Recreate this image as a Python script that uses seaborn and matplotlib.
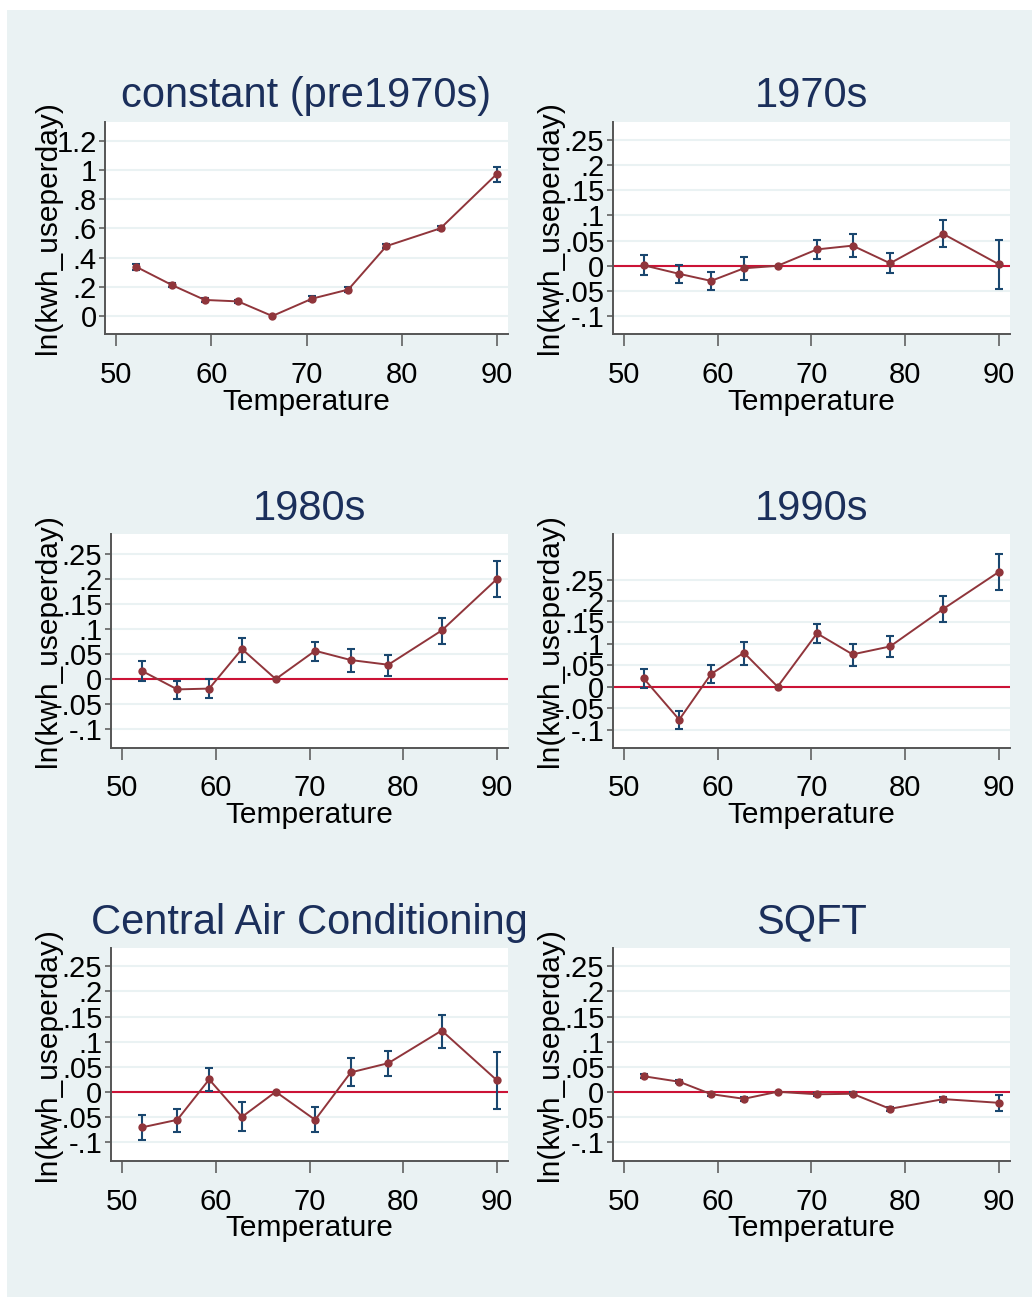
import matplotlib
matplotlib.use("Agg")
import matplotlib.pyplot as plt
import numpy as np
import pandas as pd
import seaborn as sns
from matplotlib.patches import Rectangle
from matplotlib.transforms import Bbox, TransformedBbox, blended_transform_factory

# ---- data: temperature-bin coefficients with 95% confidence bounds ----
temperature = [52.1, 55.9, 59.3, 62.8, 66.4, 70.6, 74.4, 78.4, 84.1, 90.0]

const_coef = [0.336, 0.210, 0.110, 0.100, 0.0, 0.119, 0.181, 0.478, 0.600, 0.970]
const_lo = [0.318, 0.196, 0.098, 0.087, 0.0, 0.104, 0.166, 0.466, 0.585, 0.915]
const_hi = [0.354, 0.224, 0.122, 0.113, 0.0, 0.134, 0.196, 0.490, 0.615, 1.022]

s70_coef = [0.001, -0.016, -0.030, -0.005, 0.0, 0.0325, 0.040, 0.005, 0.063, 0.003]
s70_lo = [-0.019, -0.034, -0.048, -0.029, 0.0, 0.013, 0.017, -0.015, 0.037, -0.046]
s70_hi = [0.021, 0.001, -0.013, 0.017, 0.0, 0.052, 0.0625, 0.025, 0.090, 0.052]

s80_coef = [0.0166, -0.0206, -0.019, 0.060, 0.0, 0.0565, 0.038, 0.0286, 0.097, 0.200]
s80_lo = [-0.003, -0.040, -0.0386, 0.035, 0.0, 0.036, 0.015, 0.006, 0.071, 0.1636]
s80_hi = [0.0366, -0.003, 0.0, 0.082, 0.0, 0.075, 0.060, 0.0485, 0.122, 0.236]

s90_coef = [0.0195, -0.077, 0.0296, 0.0794, 0.0, 0.1246, 0.0755, 0.094, 0.182, 0.268]
s90_lo = [-0.003, -0.098, 0.0086, 0.0514, 0.0, 0.101, 0.049, 0.069, 0.152, 0.225]
s90_hi = [0.0405, -0.056, 0.0506, 0.104, 0.0, 0.1456, 0.1005, 0.1176, 0.211, 0.311]

cac_coef = [-0.0711, -0.0559, 0.0246, -0.050, 0.0, -0.056, 0.0386, 0.057, 0.122, 0.0226]
cac_lo = [-0.0964, -0.080, 0.0007, -0.078, 0.0, -0.081, 0.0106, 0.0306, 0.088, -0.035]
cac_hi = [-0.047, -0.0346, 0.0472, -0.021, 0.0, -0.031, 0.067, 0.082, 0.154, 0.080]

sqft_coef = [0.031, 0.020, -0.0047, -0.014, 0.0, -0.005, -0.004, -0.034, -0.0146, -0.022]
sqft_lo = [0.027, 0.017, -0.0077, -0.018, 0.0, -0.008, -0.007, -0.038, -0.0196, -0.038]
sqft_hi = [0.035, 0.023, -0.0017, -0.010, 0.0, -0.002, -0.001, -0.030, -0.0096, -0.0066]

titles = ["constant (pre1970s)", "1970s", "1980s", "1990s",
          "Central Air Conditioning", "SQFT"]

const_ticks = [0, 0.2, 0.4, 0.6, 0.8, 1.0, 1.2]
const_ticklabels = ["0", ".2", ".4", ".6", ".8", "1", "1.2"]
small_ticks = [-0.1, -0.05, 0, 0.05, 0.1, 0.15, 0.2, 0.25]
small_ticklabels = ["-.1", "-.05", "0", ".05", ".1", ".15", ".2", ".25"]
x_ticks = [50, 60, 70, 80, 90]
x_label = "Temperature"
y_label = "ln(kwh_useperday)"

# ---- style ----
sns.set_theme(style="white")
plt.rcParams["font.family"] = ["Liberation Sans", "DejaVu Sans"]

BG = "#EAF2F3"
MAROON = "#90353B"
NAVY = "#1A476F"
ZERO_RED = "#CC1336"
TITLE = "#1B2F5B"
AXIS = "#555555"

W, H = 1032, 1297
fig = plt.figure(figsize=(W / 100, H / 100), dpi=100)
fig.patch.set_facecolor("white")
fig.patches.append(Rectangle((7 / W, 0), 1 - 7 / W, 1 - 10 / H,
                             transform=fig.transFigure, facecolor=BG,
                             edgecolor="none", zorder=-10))

# plot regions in pixels: (left, top, right, bottom)
boxes = [
    (105.0, 121.7, 508.0, 334.3),
    (612.7, 121.7, 1010.0, 334.3),
    (110.7, 534.3, 508.3, 747.7),
    (612.7, 534.3, 1010.0, 747.7),
    (110.7, 948.3, 508.3, 1161.0),
    (612.7, 948.3, 1010.0, 1161.0),
]
ylabel_right = [61.7, 564.0, 62.0, 564.0, 62.0, 564.0]
ylims = [(-0.125, 1.329), (-0.136, 0.286), (-0.137, 0.289),
         (-0.1425, 0.356), (-0.138, 0.286), (-0.138, 0.286)]

series = [
    (const_coef, const_lo, const_hi),
    (s70_coef, s70_lo, s70_hi),
    (s80_coef, s80_lo, s80_hi),
    (s90_coef, s90_lo, s90_hi),
    (cac_coef, cac_lo, cac_hi),
    (sqft_coef, sqft_lo, sqft_hi),
]

for i, (box, (coef, lo, hi)) in enumerate(zip(boxes, series)):
    l, t, r, b = box
    ax = fig.add_axes([l / W, 1 - b / H, (r - l) / W, (b - t) / H])
    ax.set_facecolor("white")

    df = pd.DataFrame({"temp": temperature, "coef": coef, "lo": lo, "hi": hi})

    if i > 0:
        ax.axhline(0, color=ZERO_RED, lw=1.5, zorder=2)

    ci = df[df["hi"] > df["lo"]]
    ax.errorbar(ci["temp"], (ci["lo"] + ci["hi"]) / 2,
                yerr=(ci["hi"] - ci["lo"]) / 2, fmt="none",
                ecolor=NAVY, elinewidth=1.5, capsize=3.0, capthick=1.5,
                zorder=3)

    sns.lineplot(data=df, x="temp", y="coef", ax=ax, color=MAROON, lw=1.4,
                 marker="o", markersize=6, markeredgewidth=0,
                 markerfacecolor=MAROON, errorbar=None, zorder=4)

    ax.set_xlim(48.8, 91.2)
    ax.set_ylim(*ylims[i])
    ax.set_xticks(x_ticks)
    ax.set_xticklabels([str(v) for v in x_ticks])
    if i == 0:
        ax.set_yticks(const_ticks)
        ax.set_yticklabels(const_ticklabels)
    else:
        ax.set_yticks(small_ticks)
        ax.set_yticklabels(small_ticklabels)

    ax.grid(axis="y", color=BG, lw=1.5, zorder=0)
    ax.grid(axis="x", visible=False)
    ax.set_axisbelow(True)

    for side in ("top", "right"):
        ax.spines[side].set_visible(False)
    for side in ("left", "bottom"):
        ax.spines[side].set_color(AXIS)
        ax.spines[side].set_linewidth(1.4)

    ax.tick_params(axis="x", length=8.6, width=1.1, color=AXIS, pad=10.5,
                   labelsize=21, labelcolor="black", bottom=True)
    ax.tick_params(axis="y", length=4.5, width=1.1, color=AXIS, pad=1.5,
                   labelsize=21, labelcolor="black", left=True)

    ax.set_xlabel(x_label, fontsize=21.5, color="black")
    ax.xaxis.set_label_coords(0.5, 1 - (b + 53.5) / H,
                              transform=blended_transform_factory(
                                  ax.transAxes, fig.transFigure))

    ax.set_ylabel(y_label, fontsize=21.5, color="black")
    ax.yaxis.set_label_coords(ylabel_right[i] / W, 0.5,
                              transform=blended_transform_factory(
                                  fig.transFigure, ax.transAxes))

    ttl = ax.set_title(titles[i], fontsize=30, color=TITLE, pad=10.5)
    col_right = 525 if l < 500 else W
    ttl.set_clip_box(TransformedBbox(Bbox([[0, 0], [col_right / W, 1]]),
                                     fig.transFigure))
    ttl.set_clip_on(True)

fig.savefig("out.png", dpi=100, facecolor=fig.get_facecolor())
